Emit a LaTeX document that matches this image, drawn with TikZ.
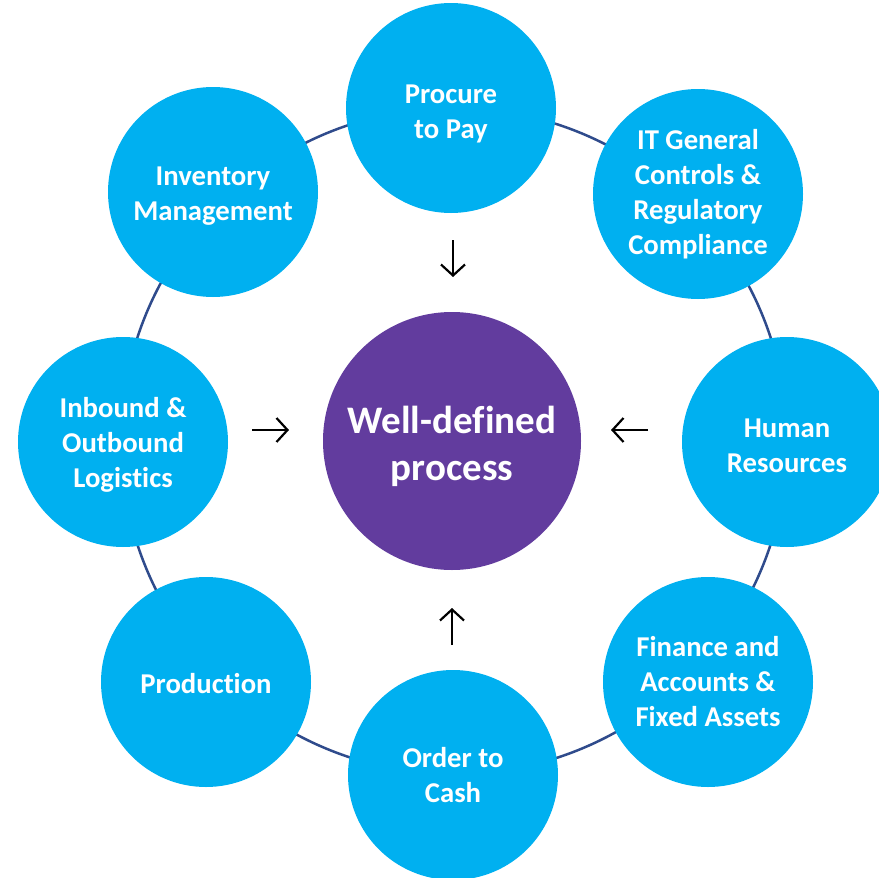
\documentclass[tikz,border=0pt]{standalone}
\usepackage{fontspec}
\setmainfont{Carlito}[Ligatures=NoCommon]
\usetikzlibrary{arrows.meta}
\definecolor{bubblefill}{HTML}{00B0F0}
\definecolor{corefill}{HTML}{623C9E}
\definecolor{ringline}{HTML}{2F4B8C}
\newcommand{\toppad}[1]{\rule{0pt}{#1}}
\begin{document}
\begin{tikzpicture}[x=1pt,y=-1pt,
  bubble/.style={circle,fill=bubblefill,minimum size=210pt,inner sep=0pt,text=white,align=center,
    font=\bfseries\fontsize{28.7}{35}\selectfont},
  core/.style={circle,fill=corefill,minimum size=258pt,inner sep=0pt},
  coretext/.style={inner sep=0pt,text=white,align=center,font=\bfseries\fontsize{39}{47}\selectfont},
  arr/.style={line width=2.2pt,black,-{Straight Barb[length=11pt,width=24pt,line width=2.2pt]}}]
\useasboundingbox (0,0) rectangle (879,878);
\clip (0,0) rectangle (879,878);
\fill[white] (0,0) rectangle (879,878);
\draw[ringline,line width=2.5pt] (454,441) circle [radius=333pt];
\node[core] (core) at (452,441) {};
\node[coretext] (coretxt) at (452,446) {Well-defined\\process};
\node[bubble] (p2p) at (451,108) {\toppad{30pt}Procure\\to Pay};
\node[bubble] (itg) at (698,194) {IT General\\Controls \&\\Regulatory\\Compliance};
\node[bubble] (hr) at (787,442) {\toppad{27pt}Human\\Resources};
\node[bubble] (fin) at (708,682) {Finance and\\Accounts \&\\Fixed Assets};
\node[bubble] (o2c) at (453,775) {Order to\\Cash};
\node[bubble] (prod) at (206,682) {\toppad{24pt}Production};
\node[bubble] (log) at (123,442) {\toppad{25pt}Inbound \&\\Outbound\\Logistics};
\node[bubble] (inv) at (213,192) {\toppad{27pt}Inventory\\Management};
\coordinate (t1) at (453,240); \coordinate (t2) at (453,277);
\coordinate (l1) at (252,430); \coordinate (l2) at (289,430);
\coordinate (r1) at (648,430); \coordinate (r2) at (611,430);
\coordinate (b1) at (452,645); \coordinate (b2) at (452,608);
\draw[arr] (t1) -- (t2);
\draw[arr] (l1) -- (l2);
\draw[arr] (r1) -- (r2);
\draw[arr] (b1) -- (b2);
\end{tikzpicture}
\end{document}
